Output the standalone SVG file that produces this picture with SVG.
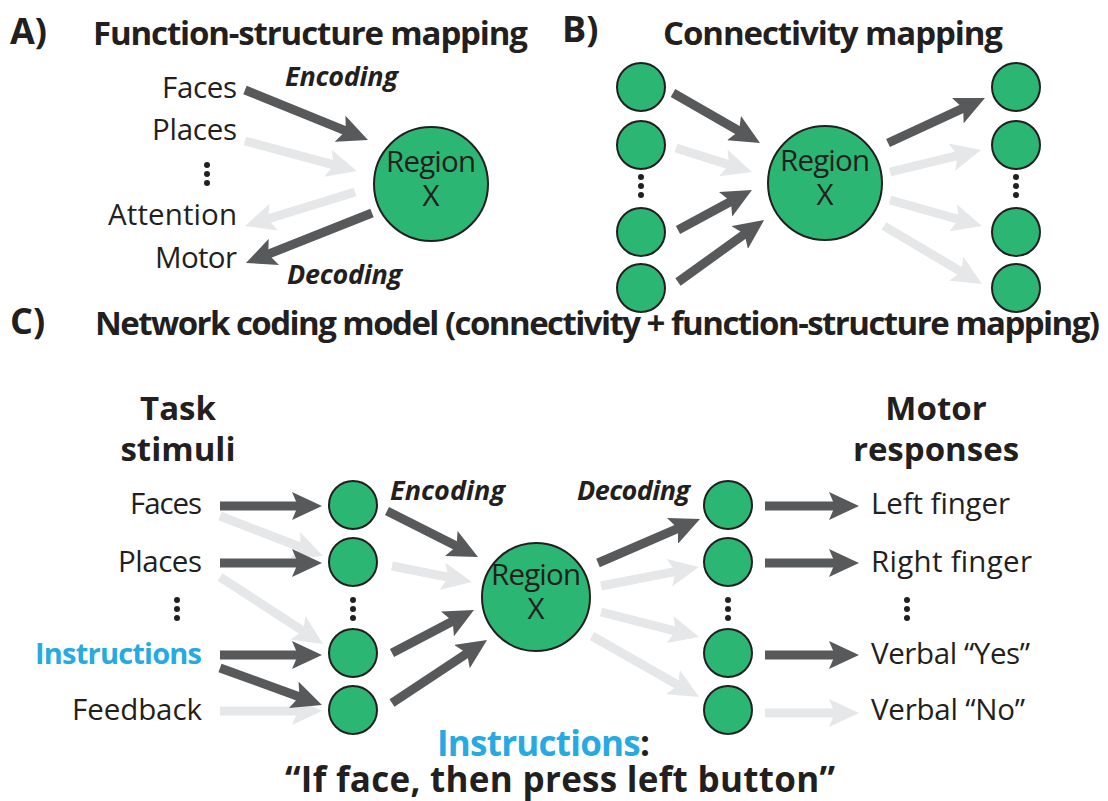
<svg xmlns="http://www.w3.org/2000/svg" width="1108" height="801" viewBox="0 0 1108 801">
<style>
.t{font-family:"Open Sans","Liberation Sans",sans-serif;fill:#231f20;font-size:29.5px}
.b{font-weight:bold;font-size:29px}
.h{font-weight:bold;font-size:33px}
.c{font-weight:bold;font-size:35px}
.p{font-weight:bold;font-size:36px}
.i{font-style:italic;font-weight:bold;font-size:27px}
.bl{fill:#27aae1}
.n{fill:#2bb673;stroke:#231f20;stroke-width:2}
.d{stroke:#58595b;stroke-width:9;fill:none;marker-end:url(#md)}
.l{stroke:#e6e7e8;stroke-width:9;fill:none;marker-end:url(#ml)}
.dot{fill:#231f20}
</style>
<defs>
<marker id="md" markerUnits="userSpaceOnUse" markerWidth="30" markerHeight="28" viewBox="0 -14 30 28" refX="8" refY="0" orient="auto"><path d="M0,-14 L30,0 L0,14 L6,0 Z" fill="#58595b"/></marker>
<marker id="ml" markerUnits="userSpaceOnUse" markerWidth="30" markerHeight="28" viewBox="0 -14 30 28" refX="8" refY="0" orient="auto"><path d="M0,-14 L30,0 L0,14 L6,0 Z" fill="#e6e7e8"/></marker>
<g id="dots"><circle cx="0" cy="0" r="3"/><circle cx="0" cy="9" r="3"/><circle cx="0" cy="18" r="3"/></g>
</defs>

<!-- Headings -->
<g id="headings">
<text class="t p" x="10" y="44">A)</text>
<text class="t h" x="93" y="45" textLength="435">Function-structure mapping</text>
<text class="t p" x="562" y="42">B)</text>
<text class="t h" x="663" y="45" textLength="340">Connectivity mapping</text>
<text class="t p" x="10" y="334">C)</text>
<text class="t h" x="95" y="335" textLength="1005">Network coding model (connectivity + function-structure mapping)</text>
</g>

<!-- Connectors -->
<g id="connectors">
<!-- A -->
<line class="l" x1="245" y1="141" x2="335.7" y2="165.3"/>
<line class="l" x1="355" y1="192" x2="266" y2="219.5"/>
<line class="d" x1="245" y1="90" x2="347.6" y2="131.7"/>
<line class="d" x1="372" y1="213" x2="266.4" y2="254.9"/>
<!-- B -->
<line class="l" x1="676" y1="148" x2="731" y2="165.4"/>
<line class="l" x1="890" y1="172" x2="959.6" y2="155.2"/>
<line class="l" x1="890" y1="200" x2="960.8" y2="220"/>
<line class="l" x1="884" y1="226" x2="963.1" y2="272.8"/>
<line class="d" x1="673" y1="93" x2="740.9" y2="132"/>
<line class="d" x1="678" y1="230" x2="732.6" y2="200.5"/>
<line class="d" x1="678" y1="282" x2="746.2" y2="232.9"/>
<line class="d" x1="888" y1="143" x2="965" y2="107.3"/>
<!-- C -->
<line class="l" x1="220" y1="516" x2="302.5" y2="548"/>
<line class="l" x1="220" y1="577" x2="304.6" y2="632"/>
<line class="l" x1="220" y1="711" x2="300" y2="711"/>
<line class="l" x1="392" y1="566" x2="450.4" y2="577.7"/>
<line class="l" x1="601" y1="586" x2="677.4" y2="571.2"/>
<line class="l" x1="601" y1="612" x2="677.7" y2="631.6"/>
<line class="l" x1="592" y1="636" x2="679.9" y2="686.1"/>
<line class="l" x1="765" y1="713" x2="837" y2="713"/>
<line class="d" x1="220" y1="506" x2="300" y2="506"/>
<line class="d" x1="220" y1="563" x2="300" y2="563"/>
<line class="d" x1="220" y1="655" x2="300" y2="655"/>
<line class="d" x1="220" y1="668" x2="301.3" y2="697.5"/>
<line class="d" x1="387" y1="511" x2="458.4" y2="547.1"/>
<line class="d" x1="392" y1="653" x2="454.5" y2="620.2"/>
<line class="d" x1="392" y1="703" x2="468.7" y2="652.2"/>
<line class="d" x1="598" y1="563" x2="679.8" y2="527.7"/>
<line class="d" x1="765" y1="506" x2="837" y2="506"/>
<line class="d" x1="765" y1="563" x2="837" y2="563"/>
<line class="d" x1="765" y1="655" x2="837" y2="655"/>
</g>

<!-- Panel A nodes -->
<g id="a-labels">
<text class="t i" x="285" y="86" textLength="113">Encoding</text>
<text class="t i" x="287" y="284" textLength="115">Decoding</text>
<text class="t" x="162" y="98" textLength="75">Faces</text>
<text class="t" x="152" y="140" textLength="85">Places</text>
<use href="#dots" x="207" y="165" class="dot"/>
<text class="t" x="108" y="225" textLength="129">Attention</text>
<text class="t" x="155" y="268" textLength="82">Motor</text>
</g>
<g id="a-region">
<circle class="n" cx="431" cy="184" r="57"/>
<text class="t" x="386" y="172" textLength="90">Region</text>
<text class="t" x="431" y="206" text-anchor="middle">X</text>
</g>

<!-- Panel B nodes -->
<g id="b-in1"><circle class="n" cx="641" cy="87" r="24"/></g>
<g id="b-in2"><circle class="n" cx="641" cy="145" r="24"/></g>
<use href="#dots" x="641" y="177" class="dot"/>
<g id="b-in3"><circle class="n" cx="641" cy="232" r="24"/></g>
<g id="b-in4"><circle class="n" cx="641" cy="288" r="24"/></g>
<g id="b-region">
<circle class="n" cx="825" cy="183" r="57"/>
<text class="t" x="780" y="171" textLength="90">Region</text>
<text class="t" x="825" y="205" text-anchor="middle">X</text>
</g>
<g id="b-out1"><circle class="n" cx="1016" cy="87" r="24"/></g>
<g id="b-out2"><circle class="n" cx="1016" cy="145" r="24"/></g>
<use href="#dots" x="1016" y="177" class="dot"/>
<g id="b-out3"><circle class="n" cx="1016" cy="232" r="24"/></g>
<g id="b-out4"><circle class="n" cx="1016" cy="288" r="24"/></g>

<!-- Panel C -->
<g id="c-stim-labels">
<text class="t h" x="178" y="420" text-anchor="middle">Task</text>
<text class="t h" x="178" y="461" text-anchor="middle">stimuli</text>
<text class="t" x="130" y="514" textLength="72">Faces</text>
<text class="t" x="118" y="572" textLength="84">Places</text>
<use href="#dots" x="177" y="600" class="dot"/>
<text class="t b bl" x="35" y="664" textLength="167">Instructions</text>
<text class="t" x="72" y="720" textLength="130">Feedback</text>
</g>
<g id="c-in1"><circle class="n" cx="353" cy="505" r="24"/></g>
<g id="c-in2"><circle class="n" cx="353" cy="562" r="24"/></g>
<use href="#dots" x="353" y="600" class="dot"/>
<g id="c-in3"><circle class="n" cx="353" cy="653" r="24"/></g>
<g id="c-in4"><circle class="n" cx="353" cy="710" r="24"/></g>
<text class="t i" x="390" y="500" textLength="115">Encoding</text>
<g id="c-region">
<circle class="n" cx="536" cy="597" r="54"/>
<text class="t" x="491" y="585" textLength="90">Region</text>
<text class="t" x="536" y="619" text-anchor="middle">X</text>
</g>
<text class="t i" x="577" y="500" textLength="113">Decoding</text>
<g id="c-out1"><circle class="n" cx="728" cy="505" r="24"/></g>
<g id="c-out2"><circle class="n" cx="728" cy="562" r="24"/></g>
<use href="#dots" x="728" y="600" class="dot"/>
<g id="c-out3"><circle class="n" cx="728" cy="653" r="24"/></g>
<g id="c-out4"><circle class="n" cx="728" cy="710" r="24"/></g>
<g id="c-resp-labels">
<text class="t h" x="936" y="420" text-anchor="middle">Motor</text>
<text class="t h" x="936" y="461" text-anchor="middle">responses</text>
<text class="t" x="871" y="514" textLength="139">Left finger</text>
<text class="t" x="871" y="572" textLength="161">Right finger</text>
<use href="#dots" x="907" y="600" class="dot"/>
<text class="t" x="871" y="664" textLength="159">Verbal “Yes”</text>
<text class="t" x="871" y="720" textLength="154">Verbal “No”</text>
</g>
<g id="c-caption">
<text class="t c" x="437" y="756" textLength="213"><tspan class="bl">Instructions</tspan>:</text>
<text class="t c" x="285" y="792" textLength="550">“If face, then press left button”</text>
</g>
</svg>
